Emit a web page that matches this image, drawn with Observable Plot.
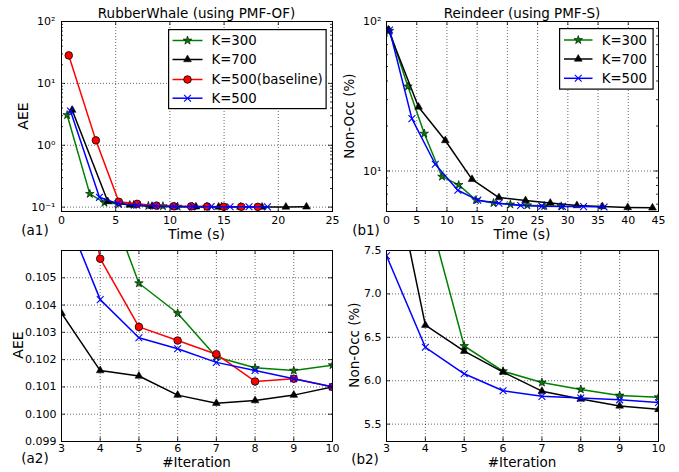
<!DOCTYPE html>
<html><head><meta charset="utf-8">
<script src="https://cdn.jsdelivr.net/npm/d3@7"></script>
<script src="https://cdn.jsdelivr.net/npm/@observablehq/plot@0.6"></script>
<style>
body{margin:0;background:#fff;}
#fig{position:relative;width:679px;height:472px;font-family:"DejaVu Sans",sans-serif;color:#000;overflow:hidden;}
.abs{position:absolute;white-space:nowrap;line-height:1;}
.c{transform:translate(-50%,-50%);}
.r{transform:translate(-50%,-50%) rotate(-90deg);}
</style></head><body><div id="fig"></div>
<script>
// ---------- data ----------
const iterations = [0,1,2,3,4,5,6,7,8,9,10];
const seriesNamesRW = ["K=300","K=700","K=500(baseline)","K=500"];
const seriesNamesRD = ["K=300","K=700","K=500"];

// RubberWhale (PMF-OF): elapsed time (s) and AEE per iteration
const rwTimeK300 = [0.52, 2.61, 3.96, 5.31, 6.66, 8.01, 9.36, 10.71, 12.06, 13.41, 14.76];
const rwAeeK300  = [3.08, 0.164, 0.118, 0.112, 0.1086, 0.1048, 0.1037, 0.1021, 0.1017, 0.1016, 0.1018];
const rwTimeK700 = [0.98, 4.27, 6.3, 8.35, 10.4, 12.4, 14.5, 16.5, 18.5, 20.7, 22.6];
const rwAeeK700  = [3.7, 0.123, 0.108, 0.1037, 0.1016, 0.1014, 0.1007, 0.1004, 0.1005, 0.1007, 0.1010];
const rwTimeBase = [0.67, 3.17, 5.29, 6.98, 8.76, 10.36, 11.96, 13.44, 14.97, 16.58, 18.11];
const rwAeeBase  = [28.3, 1.2, 0.122, 0.113, 0.1057, 0.1032, 0.1027, 0.1022, 0.1012, 0.1013, 0.1010];
const rwTimeK500 = [0.83, 3.5, 5.2, 6.95, 8.65, 10.4, 12.1, 13.8, 15.55, 17.3, 19.0];
const rwAeeK500  = [3.57, 0.144, 0.114, 0.1077, 0.1042, 0.1028, 0.1024, 0.1019, 0.1016, 0.1013, 0.1010];

// Reindeer (PMF-S): elapsed time (s) and Non-Occ (%) per iteration
const rdTimeK300 = [0.5, 3.55, 6.25, 9.18, 11.95, 14.8, 17.7, 20.5, 23.3, 26.1, 28.9];
const rdErrK300  = [86.7, 36.8, 17.8, 9.17, 8.07, 6.40, 6.11, 5.98, 5.90, 5.83, 5.81];
const rdTimeK700 = [0.3, 5.3, 9.73, 14.15, 18.6, 23.0, 27.1, 31.5, 35.7, 39.9, 44.0];
const rdErrK700  = [88, 26.8, 16.0, 8.8, 6.64, 6.34, 6.10, 5.88, 5.79, 5.71, 5.67];
const rdTimeK500 = [0.5, 4.2, 8.07, 11.8, 15.1, 18.6, 22.2, 25.7, 29.1, 32.6, 36.0];
const rdErrK500  = [87.7, 22.4, 11.1, 7.44, 6.385, 6.08, 5.885, 5.82, 5.80, 5.78, 5.75];

// tick values / labels
const a1XTicks = [0,5,10,15,20,25];
const a1YTicks = [0.1,1,10,100];
const a1YLabels = ["10\u207B\u00B9","10\u2070","10\u00B9","10\u00B2"];
const a1YMinor = [0.2,0.3,0.4,0.5,0.6,0.7,0.8,0.9,2,3,4,5,6,7,8,9,20,30,40,50,60,70,80,90];
const b1XTicks = [0,5,10,15,20,25,30,35,40,45];
const b1YTicks = [10,100];
const b1YLabels = ["10\u00B9","10\u00B2"];
const b1YMinor = [6,7,8,9,20,30,40,50,60,70,80,90];
const iterTicks = [3,4,5,6,7,8,9,10];
const a2YTicks = [0.099,0.100,0.101,0.102,0.103,0.104,0.105];
const b2YTicks = [5.5,6.0,6.5,7.0,7.5];

// ---------- styles ----------
const sty = {
  k300: {color:"#008000", symbol:"star", fill:"#008000", edge:"#000", r:2.7, ew:0.6},
  k700: {color:"#000000", symbol:"triangle", fill:"#000000", edge:"#000", r:2.9, ew:0.5},
  base: {color:"#ff0000", symbol:"circle", fill:"#ff0000", edge:"#000", r:3.8, ew:0.8},
  k500: {color:"#0000ff", symbol:"times", fill:"none", edge:"#0000ff", r:3.2, ew:1.1}
};
const rwSeries = [
  {name:seriesNamesRW[0], t:rwTimeK300, v:rwAeeK300, ...sty.k300},
  {name:seriesNamesRW[1], t:rwTimeK700, v:rwAeeK700, ...sty.k700},
  {name:seriesNamesRW[2], t:rwTimeBase, v:rwAeeBase, ...sty.base},
  {name:seriesNamesRW[3], t:rwTimeK500, v:rwAeeK500, ...sty.k500}
];
const rdSeries = [
  {name:seriesNamesRD[0], t:rdTimeK300, v:rdErrK300, ...sty.k300},
  {name:seriesNamesRD[1], t:rdTimeK700, v:rdErrK700, ...sty.k700},
  {name:seriesNamesRD[2], t:rdTimeK500, v:rdErrK500, ...sty.k500}
];

const fig = document.getElementById("fig");

function panel(cfg) {
  const {w,h,ml,mr,mt,mb} = cfg;
  const fw = w-ml-mr, fh = h-mt-mb;
  const grid = {stroke:"#000", strokeOpacity:0.85, strokeWidth:0.7, strokeDasharray:"1,2"};
  const tk = {stroke:"#000", strokeWidth:0.8};
  const marks = [
    Plot.ruleX(cfg.xTicks, {x:d=>d, ...grid}),
    Plot.ruleY(cfg.yTicks, {y:d=>d, ...grid})
  ];
  for (const s of cfg.series) {
    const data = iterations.map((it,i)=>({x: cfg.useIter ? it : s.t[i], y: s.v[i]}));
    marks.push(Plot.line(data, {x:"x", y:"y", stroke:s.color, strokeWidth:1.5, clip:true}));
    marks.push(Plot.dot(data, {x:"x", y:"y", symbol:s.symbol, r:s.r, fill:s.fill, stroke:s.edge, strokeWidth:s.ew, clip:true}));
  }
  marks.push(
    Plot.tickX(cfg.xTicks, {x:d=>d, insetTop:fh-4, ...tk}),
    Plot.tickX(cfg.xTicks, {x:d=>d, insetBottom:fh-4, ...tk}),
    Plot.tickY(cfg.yTicks, {y:d=>d, insetRight:fw-4, ...tk}),
    Plot.tickY(cfg.yTicks, {y:d=>d, insetLeft:fw-4, ...tk})
  );
  if (cfg.yMinor) marks.push(
    Plot.tickY(cfg.yMinor, {y:d=>d, insetRight:fw-2, ...tk}),
    Plot.tickY(cfg.yMinor, {y:d=>d, insetLeft:fw-2, ...tk})
  );
  marks.push(
    Plot.frame({stroke:"#000", strokeWidth:1}),
    Plot.axisX({ticks:cfg.xTicks, tickSize:0, tickPadding:cfg.xPad, tickFormat:d=>String(d), label:null}),
    Plot.axisY({ticks:cfg.yTicks, tickSize:0, tickPadding:cfg.yPad, tickFormat:cfg.yFmt, label:null})
  );
  const svg = Plot.plot({
    width:w, height:h, marginLeft:ml, marginRight:mr, marginTop:mt, marginBottom:mb,
    x:{type:"linear", domain:cfg.xDomain},
    y:{type:cfg.yType, domain:cfg.yDomain},
    style:{fontFamily:"DejaVu Sans", fontSize:"11px", background:"transparent", overflow:"visible", color:"#000"},
    marks
  });
  const holder = document.createElement("div");
  holder.className = "abs";
  holder.style.left = cfg.left+"px"; holder.style.top = cfg.top+"px";
  holder.appendChild(svg);
  fig.appendChild(holder);
}

function fmtFrom(ticks, labels){ return d => labels[ticks.findIndex(t=>Math.abs(t-d)<1e-9)]; }

panel({left:0, top:0, w:340, h:240, ml:61, mr:8, mt:21, mb:29, series:rwSeries, useIter:false,
  xDomain:[0,25], xTicks:a1XTicks, yType:"log", yDomain:[0.085,100], yTicks:a1YTicks, yMinor:a1YMinor,
  yFmt:fmtFrom(a1YTicks,a1YLabels), xPad:5, yPad:6});
panel({left:340, top:0, w:339, h:240, ml:46, mr:21, mt:21, mb:29, series:rdSeries, useIter:false,
  xDomain:[0,45], xTicks:b1XTicks, yType:"log", yDomain:[5.36,100], yTicks:b1YTicks, yMinor:b1YMinor,
  yFmt:fmtFrom(b1YTicks,b1YLabels), xPad:5, yPad:5});
panel({left:0, top:240, w:340, h:232, ml:61, mr:8, mt:10, mb:31, series:rwSeries, useIter:true,
  xDomain:[3,10], xTicks:iterTicks, yType:"linear", yDomain:[0.099,0.106], yTicks:a2YTicks,
  yFmt:d3.format(".3f"), xPad:2.5, yPad:5});
panel({left:340, top:240, w:339, h:232, ml:46, mr:21, mt:10, mb:31, series:rdSeries, useIter:true,
  xDomain:[3,10], xTicks:iterTicks, yType:"linear", yDomain:[5.3,7.5], yTicks:b2YTicks,
  yFmt:d3.format(".1f"), xPad:2.5, yPad:5});

// ---------- text ----------
function txt(s, x, y, size, cls) {
  const d = document.createElement("div");
  d.className = "abs " + (cls||"c");
  d.style.left = x+"px"; d.style.top = y+"px"; d.style.fontSize = size+"px";
  d.textContent = s; fig.appendChild(d);
}
txt("RubberWhale (using PMF-OF)", 196.5, 13.5, 13.5);
txt("Reindeer (using PMF-S)", 522, 13.5, 13.5);
txt("AEE", 23, 116, 14, "r");
txt("Non-Occ (%)", 350, 116, 13.5, "r");
txt("Time (s)", 196.5, 234, 14);
txt("Time (s)", 522, 234, 14);
txt("(a1)", 35, 231, 13.5);
txt("(b1)", 366, 231, 13.5);
txt("AEE", 18, 345, 14, "r");
txt("Non-Occ (%)", 355, 345, 13.5, "r");
txt("#Iteration", 196.5, 463, 13.5);
txt("#Iteration", 522, 463, 13.5);
txt("(a2)", 35, 459, 13.5);
txt("(b2)", 365, 460, 13.5);

// ---------- legends ----------
const symMap = {star:d3.symbolStar, triangle:d3.symbolTriangle, circle:d3.symbolCircle, times:d3.symbolX};
function legend(series, box, lineX0, lineX1, textX, rowsY) {
  const svg = d3.select(fig).append("svg").attr("class","abs")
    .style("left",box.x+"px").style("top",box.y+"px")
    .attr("width",box.w+2).attr("height",box.h+2);
  svg.append("rect").attr("x",0.6).attr("y",0.6).attr("width",box.w).attr("height",box.h)
    .attr("fill","#fff").attr("stroke","#000").attr("stroke-width",1.2);
  series.forEach((s,i)=>{
    const y = rowsY[i]-box.y;
    svg.append("line").attr("x1",lineX0-box.x).attr("x2",lineX1-box.x).attr("y1",y).attr("y2",y)
      .attr("stroke",s.color).attr("stroke-width",1.5);
    svg.append("path").attr("d", d3.symbol(symMap[s.symbol], s.r*s.r*Math.PI)())
      .attr("transform",`translate(${(lineX0+lineX1)/2-box.x},${y})`)
      .attr("fill",s.fill).attr("stroke",s.edge).attr("stroke-width",s.ew);
    svg.append("text").attr("x",textX-box.x).attr("y",y).attr("dy","0.36em")
      .attr("font-family","DejaVu Sans").attr("font-size",13.3).text(s.name);
  });
}
legend(rwSeries, {x:167.5, y:28.5, w:157.5, h:79}, 172, 202, 211, [40,59,79,97.7]);
legend(rdSeries, {x:559, y:28, w:93.5, h:60.5}, 564, 592.5, 601.7, [40,59,78.3]);
</script></body></html>
